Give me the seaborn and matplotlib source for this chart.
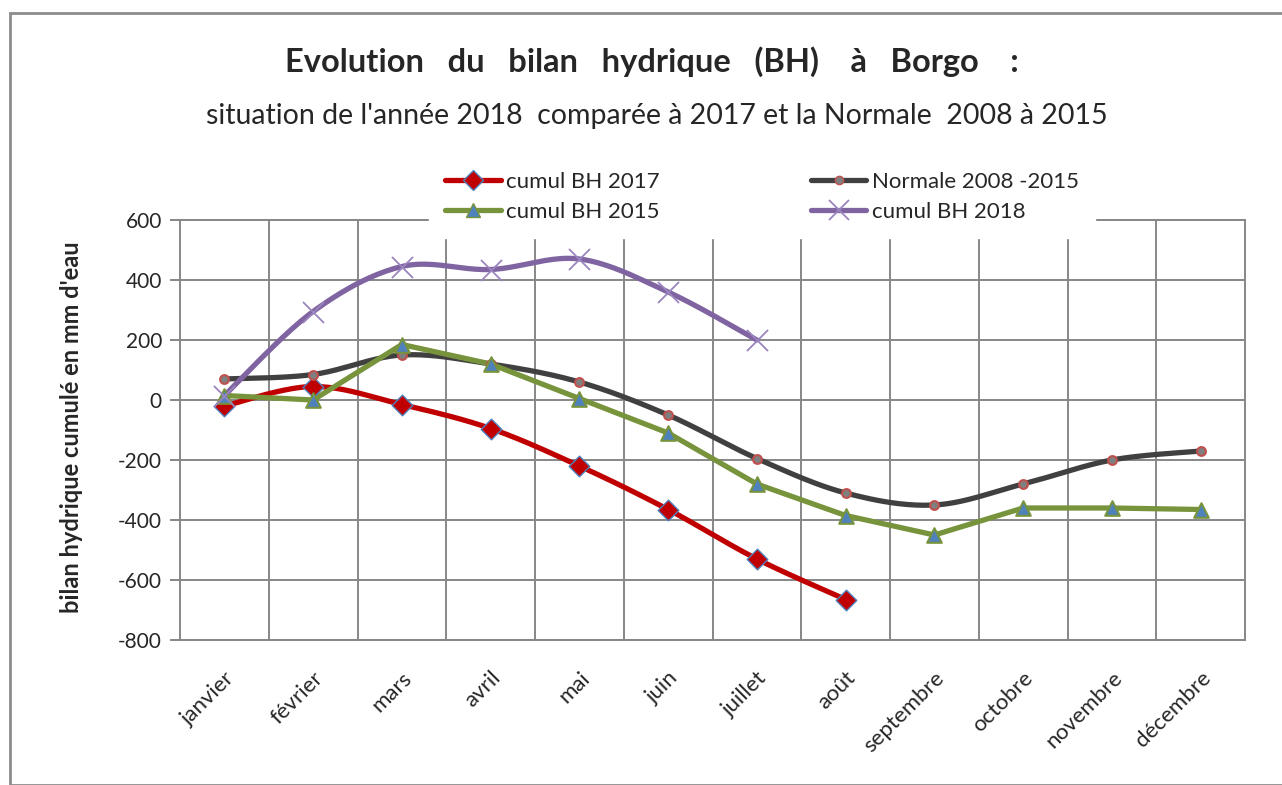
import numpy as np
import pandas as pd
import matplotlib
matplotlib.use("Agg")
import matplotlib.pyplot as plt
from matplotlib.lines import Line2D
from matplotlib.patches import Rectangle
import seaborn as sns

# data
mois = ["janvier", "février", "mars", "avril", "mai", "juin", "juillet",
        "août", "septembre", "octobre", "novembre", "décembre"]
bh_2017 = [-20, 45, -15, -95, -220, -365, -530, -665]
normale = [70, 85, 150, 120, 60, -50, -195, -310, -350, -280, -200, -170]
bh_2015 = [15, 0, 185, 120, 5, -110, -280, -385, -450, -360, -360, -365]
bh_2018 = [15, 295, 445, 435, 470, 360, 200]

sns.set_style("white")
plt.rcParams['font.family'] = ['Lato', 'DejaVu Sans']
plt.rcParams['axes.unicode_minus'] = False

GRID = "#878787"
RED = "#C00000"
GRAY = "#404040"
GREEN = "#77933C"
PURPLE = "#8064A2"
BLUE = "#4F81BD"


def smooth(xs, ys, n=24):
    # excel-like smoothed line (bezier through the points)
    pts = np.column_stack([xs, ys]).astype(float)
    out = [pts[0]]
    t = np.linspace(0, 1, n)[1:, None]
    for i in range(len(pts) - 1):
        p0 = pts[max(i - 1, 0)]
        p1 = pts[i]
        p2 = pts[i + 1]
        p3 = pts[min(i + 2, len(pts) - 1)]
        c1 = p1 + (p2 - p0) / 6
        c2 = p2 - (p3 - p1) / 6
        seg = (1 - t)**3 * p1 + 3 * (1 - t)**2 * t * c1 + 3 * (1 - t) * t**2 * c2 + t**3 * p2
        out.extend(seg)
    return np.array(out)


fig = plt.figure(figsize=(12.82, 7.85), dpi=100)
ax = fig.add_axes([180 / 1282, 1 - 640 / 785, 1065 / 1282, 420 / 785])

series = [
    ("cumul BH 2017", bh_2017, RED, True, dict(marker="D", s=110, color=RED, edgecolor=BLUE, linewidth=1.0)),
    ("Normale 2008 -2015", normale, GRAY, True, dict(marker="o", s=40, color="#7F7F7F", edgecolor="#C0504D", linewidth=1.5)),
    ("cumul BH 2015", bh_2015, GREEN, False, dict(marker="^", s=110, color=BLUE, edgecolor=GREEN, linewidth=1.5)),
    ("cumul BH 2018", bh_2018, PURPLE, True, dict(marker="x", s=230, color="#9B85BF", linewidth=1.3)),
]

for name, vals, col, smoothed, mk in series:
    xs = np.arange(len(vals))
    if smoothed:
        curve = smooth(xs, vals)
        df = pd.DataFrame({"x": curve[:, 0], "y": curve[:, 1]})
    else:
        df = pd.DataFrame({"x": xs, "y": vals})
    sns.lineplot(data=df, x="x", y="y", sort=False, estimator=None, color=col,
                 linewidth=3.8, ax=ax, zorder=3)
    sns.scatterplot(x=xs, y=vals, ax=ax, zorder=4, **mk)

ax.set_xlim(-0.5, 11.5)
ax.set_ylim(-800, 600)
ax.set_yticks(np.arange(-800, 601, 200))
ax.set_xticks(np.arange(12))
ax.set_xticks(np.arange(0.5, 11, 1), minor=True)
ax.set_xticklabels(mois, rotation=45, ha="right", rotation_mode="anchor", fontsize=16)
ax.tick_params(axis="x", which="both", length=0, pad=20)
ax.tick_params(axis="y", length=7, width=1.4, color=GRID, labelsize=15, pad=6, left=True)
ax.grid(True, axis="y", color=GRID, linewidth=1.4)
ax.grid(True, axis="x", which="minor", color=GRID, linewidth=1.4)
ax.set_axisbelow(True)
for sp in ax.spines.values():
    sp.set_color(GRID)
    sp.set_linewidth(1.4)
ax.set_xlabel("")
ax.set_ylabel("")

fig.text(72 / 1282, 1 - 427 / 785, "bilan hydrique cumulé en mm d'eau", rotation=90,
         ha="center", va="center", fontsize=17, fontweight="bold")

fig.text(652 / 1282, 1 - 62 / 785, "Evolution   du   bilan   hydrique   (BH)    à   Borgo    :",
         ha="center", va="center", fontsize=23.5, fontweight="bold")
fig.text(657 / 1282, 1 - 116 / 785, "situation de l'année 2018  comparée à 2017 et la Normale  2008 à 2015",
         ha="center", va="center", fontsize=20.5)

handles = [
    Line2D([], [], color=RED, lw=3.8, marker="D", ms=10, mfc=RED, mec=BLUE),
    Line2D([], [], color=GREEN, lw=3.8, marker="^", ms=10, mfc=BLUE, mec=GREEN),
    Line2D([], [], color=GRAY, lw=3.8, marker="o", ms=6, mfc="#7F7F7F", mec="#C0504D"),
    Line2D([], [], color=PURPLE, lw=3.8, marker="x", ms=14, mec="#9B85BF", mew=1.3),
]
labels = ["cumul BH 2017", "cumul BH 2015", "Normale 2008 -2015", "cumul BH 2018"]
leg = fig.legend(handles, labels, ncol=2, loc="center",
                 bbox_to_anchor=(762 / 1282, 1 - 197 / 785), fontsize=16,
                 frameon=True, fancybox=False, edgecolor="white", facecolor="white",
                 handlelength=2.5, handletextpad=0.25, columnspacing=6.8,
                 labelspacing=0.45, borderpad=0.7, framealpha=1)
leg.set_zorder(10)

fig.patches.append(Rectangle((10 / 1282, 0), 1.2, 1 - 13 / 785, transform=fig.transFigure,
                             fill=False, edgecolor="#8C8C8C", linewidth=2))

fig.savefig("out.png", dpi=100)
